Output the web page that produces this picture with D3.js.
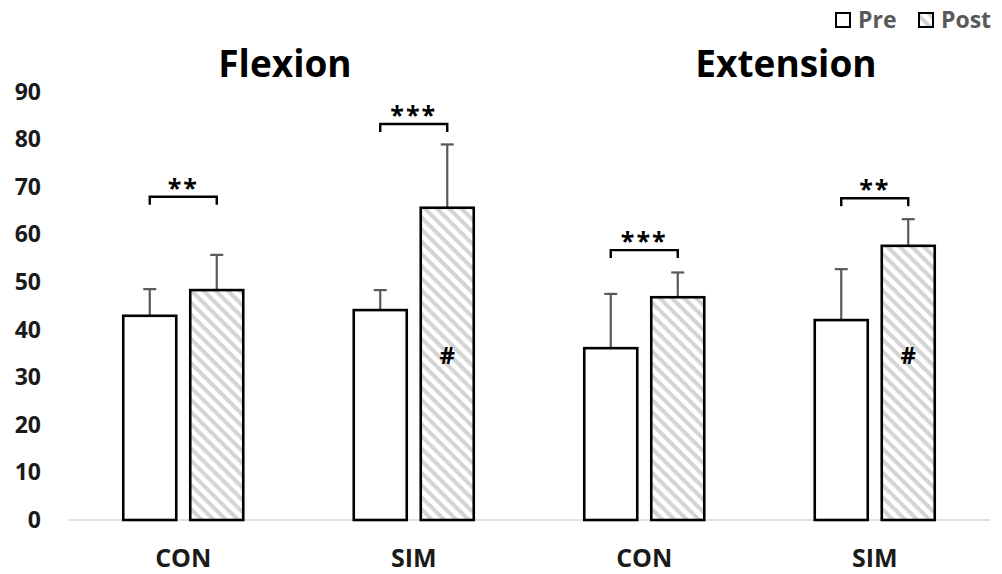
<!DOCTYPE html>
<html>
<head>
<meta charset="utf-8">
<script src="https://cdn.jsdelivr.net/npm/d3@7"></script>
<style>
  html, body { margin: 0; padding: 0; background: #fff; }
  svg { display: block; font-family: "Open Sans", sans-serif; font-weight: bold; }
</style>
</head>
<body>
<svg id="chart" width="1002" height="574"></svg>
<script>
// grouped bars: Pre vs Post, Flexion / Extension, with SD error bars

const panels = ["Flexion", "Extension"];
const groups = ["CON", "SIM", "CON", "SIM"];
const series = ["Pre", "Post"];
const preMean = [42.9, 44.1, 36.1, 42.0];
const preSD = [5.6, 4.2, 11.4, 10.7];
const postMean = [48.3, 65.6, 46.8, 57.6];
const postSD = [7.4, 13.3, 5.2, 5.6];
const sigLabels = ["**", "***", "***", "**"];
const sigLevel = [67.9, 83.2, 56.7, 67.6];
const hashMarks = ["", "#", "", "#"];
const hashLevel = 34.5;
const yTicks = [0, 10, 20, 30, 40, 50, 60, 70, 80, 90];

const svg = d3.select("#chart");

const x = d3.scaleBand().domain(d3.range(groups.length)).range([68, 990]).padding(0);
const y = d3.scaleLinear().domain([0, 90]).range([520, 91.6]);

const inner = d3.scaleBand().domain(series).range([-60, 60]).paddingInner(0.209).paddingOuter(0);
const cx = i => x(i) + x.bandwidth() / 2;

// hatch for Post
const defs = svg.append("defs");
const pat = defs.append("pattern")
  .attr("id", "hatch")
  .attr("patternUnits", "userSpaceOnUse")
  .attr("width", 8.6).attr("height", 8.6)
  .attr("patternTransform", "rotate(45)");
pat.append("rect").attr("width", 8.6).attr("height", 8.6).attr("fill", "#fff");
pat.append("rect").attr("y", 0).attr("width", 8.6).attr("height", 4).attr("fill", "#d4d4d4");

// y tick labels (no axis line in the original)
svg.append("g").selectAll("text")
  .data(yTicks)
  .join("text")
  .attr("x", 41)
  .attr("y", d => y(d))
  .attr("dy", "0.35em")
  .attr("text-anchor", "end")
  .attr("font-size", 23)
  .attr("fill", "#1a1a1a")
  .text(d => d);

// baseline
svg.append("line")
  .attr("x1", 68).attr("x2", 990)
  .attr("y1", y(0)).attr("y2", y(0))
  .attr("stroke", "#d9d9d9").attr("stroke-width", 1.5);

const rows = groups.map((g, i) => ({
  i, g,
  bars: [
    { s: "Pre", m: preMean[i], sd: preSD[i] },
    { s: "Post", m: postMean[i], sd: postSD[i] }
  ]
}));

const gGroup = svg.append("g").selectAll("g")
  .data(rows)
  .join("g")
  .attr("transform", d => `translate(${cx(d.i)},0)`);

// error bars (drawn under the bars)
gGroup.each(function(d) {
  const g = d3.select(this);
  d.bars.forEach(b => {
    const bx = inner(b.s) + inner.bandwidth() / 2;
    g.append("line")
      .attr("x1", bx).attr("x2", bx)
      .attr("y1", y(b.m)).attr("y2", y(b.m + b.sd))
      .attr("stroke", "#595959").attr("stroke-width", 2.2);
    g.append("line")
      .attr("x1", bx - 6.5).attr("x2", bx + 6.5)
      .attr("y1", y(b.m + b.sd)).attr("y2", y(b.m + b.sd))
      .attr("stroke", "#595959").attr("stroke-width", 2.2);
  });
});

gGroup.selectAll("rect.bar")
  .data(d => d.bars)
  .join("rect")
  .attr("class", "bar")
  .attr("x", b => inner(b.s))
  .attr("width", inner.bandwidth())
  .attr("y", b => y(b.m))
  .attr("height", b => y(0) - y(b.m))
  .attr("fill", b => b.s === "Pre" ? "#fff" : "url(#hatch)")
  .attr("stroke", "#000")
  .attr("stroke-width", 2.6);

// significance brackets
gGroup.each(function(d) {
  const g = d3.select(this);
  const x1 = inner("Pre") + inner.bandwidth() / 2;
  const x2 = inner("Post") + inner.bandwidth() / 2;
  const yy = y(sigLevel[d.i]);
  g.append("path")
    .attr("d", `M${x1},${yy + 8}V${yy}H${x2}V${yy + 8}`)
    .attr("fill", "none")
    .attr("stroke", "#000").attr("stroke-width", 2.4);
  g.append("text")
    .attr("x", (x1 + x2) / 2)
    .attr("y", yy)
    .attr("text-anchor", "middle")
    .attr("font-size", 25)
    .attr("letter-spacing", 2)
    .attr("fill", "#000")
    .text(sigLabels[d.i]);
  if (hashMarks[d.i]) {
    g.append("text")
      .attr("x", x2)
      .attr("y", y(hashLevel))
      .attr("dy", "0.35em")
      .attr("text-anchor", "middle")
      .attr("font-size", 24)
      .attr("fill", "#000")
      .text(hashMarks[d.i]);
  }
});

// category labels
svg.append("g").selectAll("text")
  .data(rows)
  .join("text")
  .attr("x", d => cx(d.i))
  .attr("y", 567)
  .attr("text-anchor", "middle")
  .attr("font-size", 25)
  .attr("fill", "#1a1a1a")
  .text(d => d.g);

// panel titles
const titleX = [285, 786];
svg.append("g").selectAll("text")
  .data(panels)
  .join("text")
  .attr("x", (d, i) => titleX[i])
  .attr("y", 77)
  .attr("text-anchor", "middle")
  .attr("font-size", 37)
  .attr("fill", "#000")
  .text(d => d);

// legend
const legend = svg.append("g").selectAll("g")
  .data(series)
  .join("g")
  .attr("transform", (d, i) => `translate(${[836, 919][i]},13)`);
legend.append("rect")
  .attr("width", 14).attr("height", 14)
  .attr("fill", d => d === "Pre" ? "#fff" : "url(#hatch)")
  .attr("stroke", "#000").attr("stroke-width", 2);
legend.append("text")
  .attr("x", 22).attr("y", 15)
  .attr("font-size", 23)
  .attr("fill", "#595959")
  .text(d => d);
</script>
</body>
</html>
